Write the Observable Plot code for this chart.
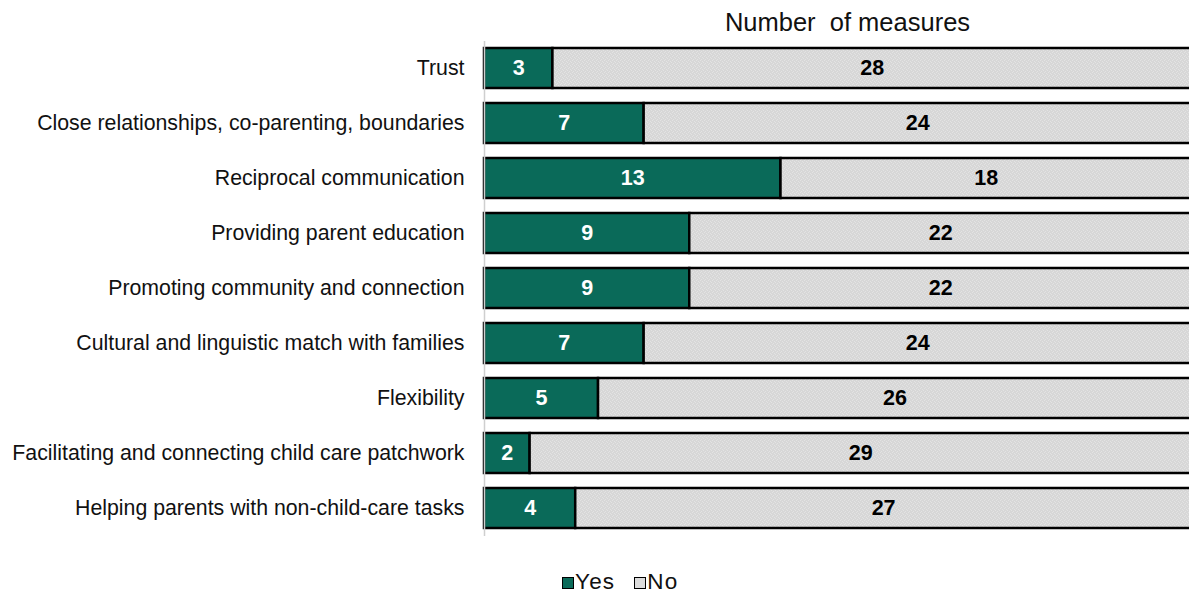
<!DOCTYPE html>
<html>
<head>
<meta charset="utf-8">
<script src="https://cdn.jsdelivr.net/npm/d3@7"></script>
<script src="https://cdn.jsdelivr.net/npm/@observablehq/plot@0.6"></script>
<style>
  html, body { margin: 0; padding: 0; background: #fff; overflow: hidden; }
  body { width: 1189px; height: 594px; font-family: "Liberation Sans", Arial, sans-serif; }
  #title { height: 40px; box-sizing: border-box; padding-left: 506px; text-align: center; font-size: 25.5px; line-height: 44px; color: #111; white-space: pre; }
  #chart { width: 1189px; overflow: hidden; }
  #chart svg { display: block; overflow: visible; }
  .leg { position: absolute; top: 571px; left: 562px; height: 22px; line-height: 22px; font-size: 22.5px; letter-spacing: 1.2px; color: #111; display: flex; align-items: center; }
  .sw { display: inline-block; width: 10px; height: 10px; border: 1.5px solid #000; margin-right: 1px; margin-top: 2px; }
</style>
</head>
<body>
<div id="title">Number  of measures</div>
<div id="chart"></div>
<div class="leg"><span class="sw" style="background:#0a6a59"></span>Yes<span style="display:inline-block;width:19px"></span><span class="sw" style="background:#dcdcdc"></span>No</div>
<script>
const categories = [
  "Trust",
  "Close relationships, co-parenting, boundaries",
  "Reciprocal communication",
  "Providing parent education",
  "Promoting community and connection",
  "Cultural and linguistic match with families",
  "Flexibility",
  "Facilitating and connecting child care patchwork",
  "Helping parents with non-child-care tasks"
];
const yesValues = [3, 7, 13, 9, 9, 7, 5, 2, 4];
const noValues = [28, 24, 18, 22, 22, 24, 26, 29, 27];
const seriesNames = ["Yes", "No"];

const data = [];
categories.forEach((c, i) => {
  data.push({category: c, series: seriesNames[0], value: yesValues[i]});
  data.push({category: c, series: seriesNames[1], value: noValues[i]});
});

const GREEN = "#0a6a59";

const chart = Plot.plot({
  width: 1189,
  height: 500,
  marginLeft: 484,
  marginRight: 0,
  marginTop: 1,
  marginBottom: 4,
  style: {fontFamily: "Liberation Sans, Arial, sans-serif", fontSize: "21.3px", color: "#111"},
  x: {domain: [0, 31], range: [484, 1191], axis: null},
  y: {domain: categories, paddingInner: 0.27, paddingOuter: 0.135, label: null, tickSize: 0, tickPadding: 20},
  color: {domain: seriesNames, range: [GREEN, "url(#graydots)"]},
  marks: [
    Plot.barX(data, Plot.stackX({
      x: "value", y: "category", fill: "series", order: seriesNames,
      stroke: "#000", strokeWidth: 2.5
    })),
    Plot.text(data, Plot.stackX({
      x: "value", y: "category", order: seriesNames,
      text: d => String(d.value),
      fill: d => d.series === "Yes" ? "#fff" : "#000",
      fontWeight: "bold", fontSize: 21.5
    })),
    Plot.ruleX([0], {stroke: "#cfcfcf", strokeWidth: 1.5})
  ]
});

// Texture pattern for the "No" segments
const ns = "http://www.w3.org/2000/svg";
const defs = document.createElementNS(ns, "defs");
const pat = document.createElementNS(ns, "pattern");
pat.setAttribute("id", "graydots");
pat.setAttribute("patternUnits", "userSpaceOnUse");
pat.setAttribute("width", "4");
pat.setAttribute("height", "4");
const bg = document.createElementNS(ns, "rect");
bg.setAttribute("width", "4"); bg.setAttribute("height", "4"); bg.setAttribute("fill", "#d7d7d7");
pat.appendChild(bg);
[[0,0],[2,1],[1,3],[3,2]].forEach(([px,py]) => {
  const r = document.createElementNS(ns, "rect");
  r.setAttribute("x", px); r.setAttribute("y", py);
  r.setAttribute("width", "1"); r.setAttribute("height", "1");
  r.setAttribute("fill", "#e3e3e3");
  pat.appendChild(r);
});
defs.appendChild(pat);
chart.insertBefore(defs, chart.firstChild);

document.getElementById("chart").appendChild(chart);
</script>
</body>
</html>
